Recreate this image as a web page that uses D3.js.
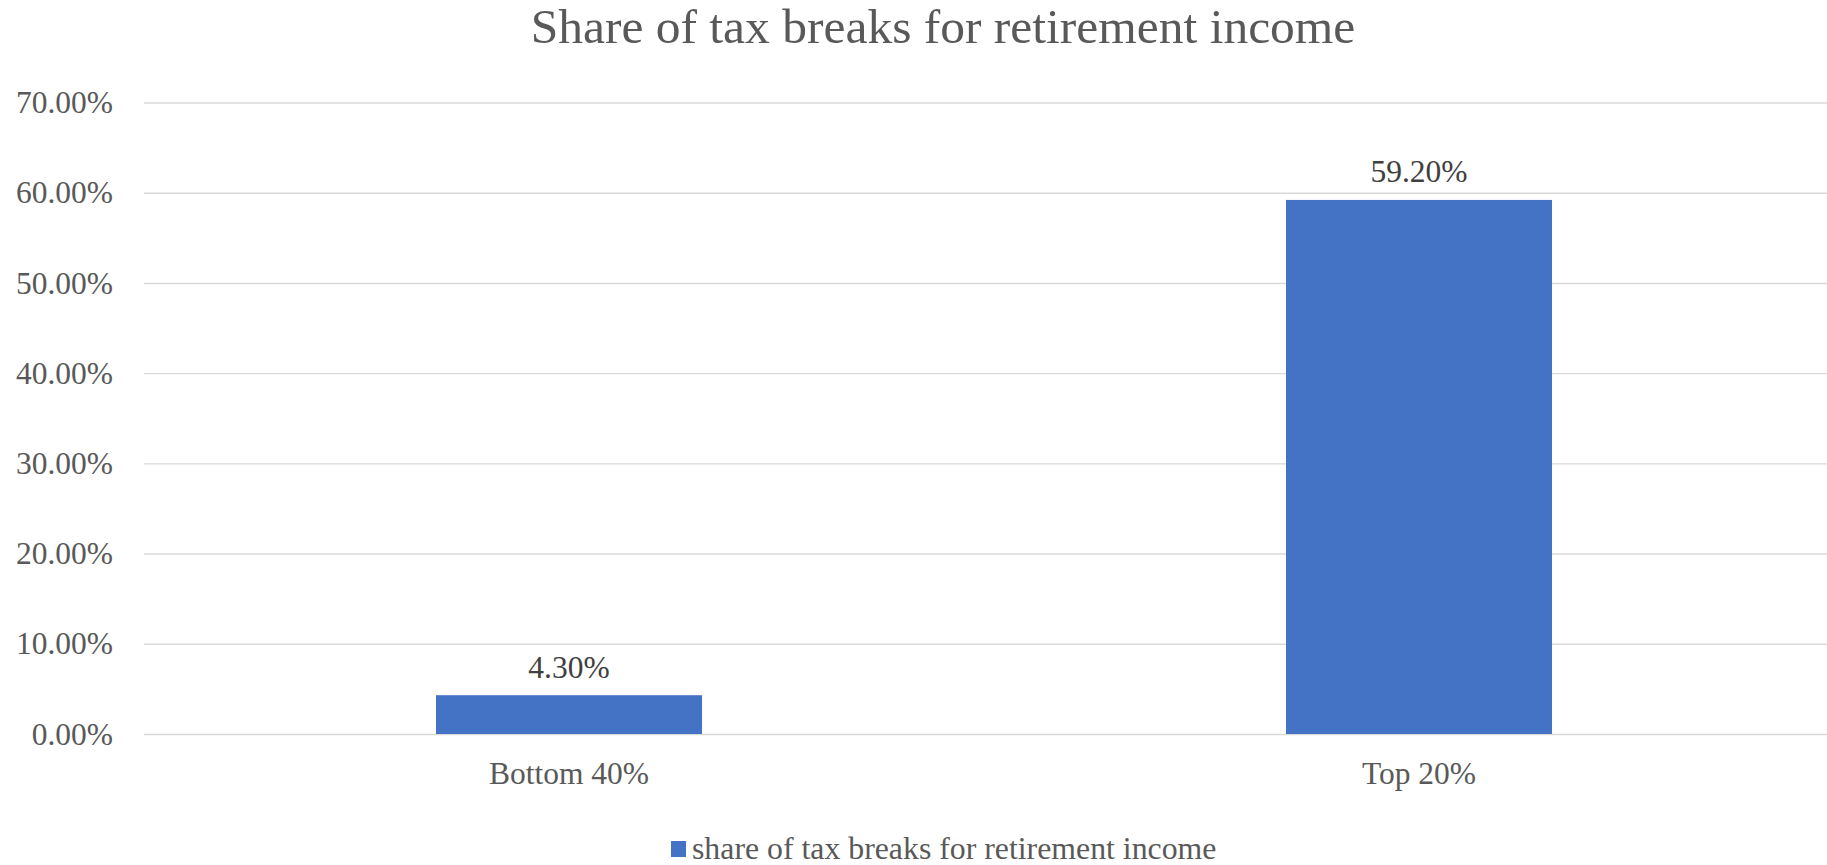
<!DOCTYPE html>
<html>
<head>
<meta charset="utf-8">
<script src="https://cdn.jsdelivr.net/npm/d3@7"></script>
<style>
  html, body { margin: 0; padding: 0; background: #fff; overflow: hidden; }
  svg, svg text { font-family: "Liberation Serif", "Times New Roman", serif; }
  svg { display: block; }
</style>
</head>
<body>
<svg id="chart" width="1827" height="865"></svg>
<script>
// Chart data
const categories = ["Bottom 40%", "Top 20%"];
const shareValues = [0.043, 0.592];
const yTicks = [0, 0.1, 0.2, 0.3, 0.4, 0.5, 0.6, 0.7];
const seriesName = "share of tax breaks for retirement income";
const chartTitle = "Share of tax breaks for retirement income";

const svg = d3.select("#chart");
const textColor = "#595959";
const barColor = "#4472C4";
const gridColor = "#D9D9D9";
const serif = "'Liberation Serif', 'Times New Roman', serif";

// Plot area (the chart frame runs slightly past the right edge of the view)
const plot = { left: 144, right: 1844, top: 102.5, bottom: 734 };
const chartCenter = 943;

const x = d3.scaleBand()
  .domain(categories)
  .range([plot.left, plot.right])
  .paddingInner(0.687)
  .paddingOuter(0.3435);

const y = d3.scaleLinear()
  .domain([0, 0.7])
  .range([plot.bottom, plot.top]);

const pct = d3.format(".2%");

// Title
svg.append("text")
  .attr("x", chartCenter)
  .attr("y", 43)
  .attr("text-anchor", "middle")
  .attr("fill", textColor)
  .attr("font-size", 49.5)
  .style("font-family", serif)
  .text(chartTitle);

// Gridlines and y-axis labels
const yAxis = d3.axisLeft(y)
  .tickValues(yTicks)
  .tickFormat(pct)
  .tickSize(-(plot.right - plot.left))
  .tickPadding(31);

const yg = svg.append("g")
  .attr("transform", `translate(${plot.left},0)`)
  .call(yAxis)
  .attr("font-family", null)
  .style("font-family", serif);
yg.select(".domain").remove();
yg.selectAll(".tick line")
  .attr("stroke", gridColor)
  .attr("stroke-width", 1.4);
yg.selectAll(".tick text")
  .attr("fill", textColor)
  .attr("font-size", 31.5)
  .style("font-family", serif);

// Category axis labels
const xAxis = d3.axisBottom(x).tickSize(0).tickPadding(28);
const xg = svg.append("g")
  .attr("transform", `translate(0,${plot.bottom})`)
  .call(xAxis)
  .attr("font-family", null)
  .style("font-family", serif);
xg.select(".domain").remove();
xg.selectAll(".tick text")
  .attr("fill", textColor)
  .attr("font-size", 31.5)
  .style("font-family", serif);

// Bars
svg.append("g")
  .selectAll("rect")
  .data(categories.map((c, i) => ({ c, v: shareValues[i] })))
  .join("rect")
  .attr("x", d => x(d.c))
  .attr("y", d => y(d.v))
  .attr("width", x.bandwidth())
  .attr("height", d => y(0) - y(d.v))
  .attr("fill", barColor);

// Value labels
svg.append("g")
  .selectAll("text")
  .data(categories.map((c, i) => ({ c, v: shareValues[i] })))
  .join("text")
  .attr("x", d => x(d.c) + x.bandwidth() / 2)
  .attr("y", d => y(d.v) - 17.5)
  .attr("text-anchor", "middle")
  .attr("fill", "#404040")
  .attr("font-size", 31.5)
  .style("font-family", serif)
  .text(d => pct(d.v));

// Legend
const legend = svg.append("g").attr("transform", "translate(671,841)");
legend.append("rect")
  .attr("width", 15)
  .attr("height", 16)
  .attr("fill", barColor);
legend.append("text")
  .attr("x", 21)
  .attr("y", 18)
  .attr("fill", textColor)
  .attr("font-size", 31.8)
  .style("font-family", serif)
  .text(seriesName);
</script>
</body>
</html>
